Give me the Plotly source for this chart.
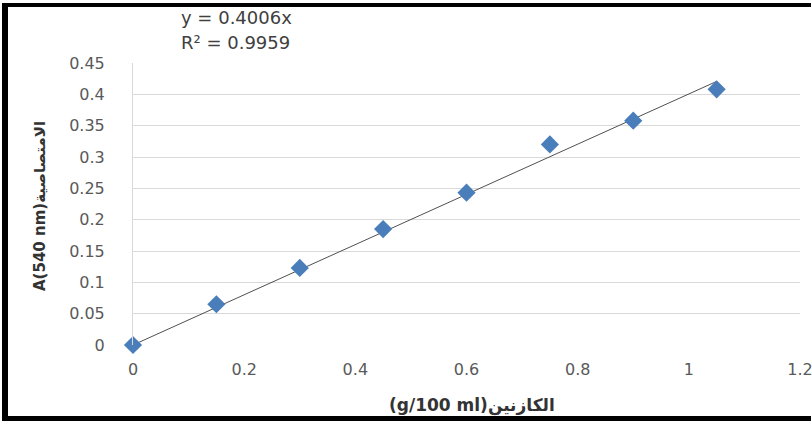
import plotly.graph_objects as go

# Casein concentration (g/100 ml) and absorbance at 540 nm
concentration = [0, 0.15, 0.30, 0.45, 0.60, 0.75, 0.90, 1.05]
absorbance = [0.0, 0.065, 0.123, 0.185, 0.243, 0.320, 0.358, 0.408]

slope = 0.4006
r_squared = 0.9959
fit_x = [0, 1.05]
fit_y = [slope * v for v in fit_x]

x_ticks = [0, 0.2, 0.4, 0.6, 0.8, 1, 1.2]
x_labels = ["0", "0.2", "0.4", "0.6", "0.8", "1", "1.2"]
y_ticks = [0, 0.05, 0.1, 0.15, 0.2, 0.25, 0.3, 0.35, 0.4, 0.45]
y_labels = ["0", "0.05", "0.1", "0.15", "0.2", "0.25", "0.3", "0.35", "0.4", "0.45"]

W, H = 812, 423
L, R, T, B = 133, 12, 63, 78
PW, PH = W - L - R, H - T - B


def px(xpix):
    return (xpix - L) / PW


def py(ypix):
    return (H - B - ypix) / PH


FONT = "DejaVu Sans"
TICK_COLOR = "#595959"

fig = go.Figure()
fig.add_trace(go.Scatter(
    x=fit_x, y=fit_y, mode="lines",
    line=dict(color="#505050", width=1), hoverinfo="skip", showlegend=False,
    cliponaxis=False,
))
fig.add_trace(go.Scatter(
    x=concentration, y=absorbance, mode="markers",
    marker=dict(symbol="diamond", size=14, color="#4A7EBB"),
    showlegend=False, cliponaxis=False,
))

fig.update_layout(
    width=W, height=H,
    margin=dict(l=L, r=R, t=T, b=B, autoexpand=False),
    paper_bgcolor="white", plot_bgcolor="white",
    xaxis=dict(
        range=[0, 1.2], tickvals=x_ticks, ticktext=x_labels,
        showgrid=False, zeroline=False, showline=False, automargin=False,
        tickfont=dict(family=FONT, size=16, color=TICK_COLOR),
        ticks="", ticklabelstandoff=13, ticklabeloverflow="allow",
    ),
    yaxis=dict(
        range=[0, 0.45], tickvals=y_ticks, ticktext=y_labels,
        showgrid=True, gridcolor="#D9D9D9", gridwidth=1, automargin=False,
        zeroline=False, showline=True, linecolor="#D9D9D9", linewidth=1,
        tickfont=dict(family=FONT, size=16, color=TICK_COLOR),
        ticks="", ticklabelstandoff=24,
    ),
    shapes=[
        # black frame on the left, top and bottom edges of the figure
        dict(type="rect", xref="paper", yref="paper",
             x0=px(2), x1=px(8), y0=py(421), y1=py(3),
             fillcolor="black", line=dict(width=0)),
        dict(type="rect", xref="paper", yref="paper",
             x0=px(2), x1=px(811), y0=py(7), y1=py(3),
             fillcolor="black", line=dict(width=0)),
        dict(type="rect", xref="paper", yref="paper",
             x0=px(2), x1=px(811), y0=py(421), y1=py(416),
             fillcolor="black", line=dict(width=0)),
    ],
    annotations=[
        dict(text="y = 0.4006x", xref="paper", yref="paper",
             x=px(179), y=py(17), xanchor="left", yanchor="middle",
             showarrow=False, font=dict(family=FONT, size=18, color="#404040")),
        dict(text="R² = 0.9959", xref="paper", yref="paper",
             x=px(179), y=py(43), xanchor="left", yanchor="middle",
             showarrow=False, font=dict(family=FONT, size=18, color="#404040")),
        dict(text="<b>(g/100 ml)الكازنين</b>", xref="paper", yref="paper",
             x=px(472), y=py(405), xanchor="center", yanchor="middle",
             showarrow=False, font=dict(family=FONT, size=17, color="#333333")),
        dict(text="<b>A(540 nm)الامتصاصية</b>", xref="paper", yref="paper",
             x=px(40), y=py(206), xanchor="center", yanchor="middle", textangle=-90,
             showarrow=False, font=dict(family=FONT, size=15, color="#333333")),
    ],
)

fig.write_html("out.html")
